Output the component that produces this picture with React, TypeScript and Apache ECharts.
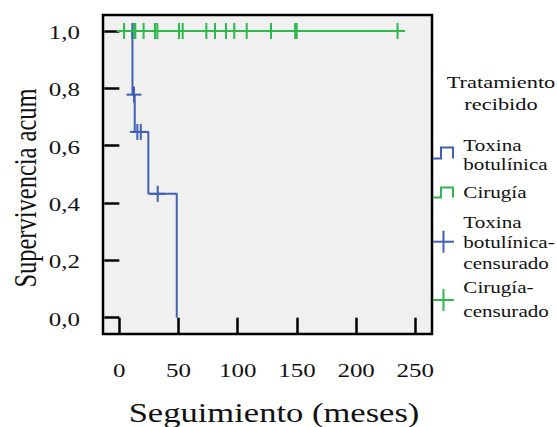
import React, { useEffect, useRef } from "react";
import * as echarts from "echarts";

// ---- data ----
const xTicks = [0, 50, 100, 150, 200, 250];
const xTickLabels = ["0", "50", "100", "150", "200", "250"];
const yTicks = [0, 0.2, 0.4, 0.6, 0.8, 1.0];
const yTickLabels = ["0,0", "0,2", "0,4", "0,6", "0,8", "1,0"];

const toxinaTimes = [0, 11.1, 13.0, 24.5, 48.5];
const toxinaSurv = [1, 0.778, 0.648, 0.432, 0];
const cirugiaTimes = [0, 235];
const cirugiaSurv = [1, 1];

const toxinaCensTimes = [11.0, 12.4, 15.2, 18.1, 32.4];
const toxinaCensSurv = [1, 0.778, 0.648, 0.648, 0.432];
const cirugiaCensTimes = [4.0, 12.5, 13.5, 20.5, 30.1, 32.1, 50.4, 53.5, 73.5, 80.8, 90.1, 97.1, 107.6, 128.1, 148.5, 149.8, 235];
const cirugiaCensSurv = [1, 1, 1, 1, 1, 1, 1, 1, 1, 1, 1, 1, 1, 1, 1, 1, 1];

const legendTitle = ["Tratamiento", "recibido"];
const legendItems = [
  ["Toxina", "botulínica"],
  ["Cirugía"],
  ["Toxina", "botulínica-", "censurado"],
  ["Cirugía-", "censurado"],
];
const xAxisName = "Seguimiento (meses)";
const yAxisName = "Supervivencia acum";

const BLUE = "#4060b6";
const GREEN = "#2fb84c";
const FONT = "Liberation Serif";
const SX = 1.28;
const TEXT = "#111";

const zip = (a: number[], b: number[]) => a.map((v, i) => [v, b[i]]);

export default function App() {
  const ref = useRef<HTMLDivElement>(null);
  useEffect(() => {
    if (!ref.current) return;
    const chart = echarts.init(ref.current, null, { renderer: "svg" });
    const censorSeries = (times: number[], surv: number[], color: string) => [
      {
        type: "scatter",
        data: zip(times, surv),
        symbol: "rect",
        symbolSize: [2, 16],
        itemStyle: { color, opacity: 1 },
        silent: true,
        z: color === GREEN ? 6 : 4,
      },
      {
        type: "scatter",
        data: zip(times, surv),
        symbol: "rect",
        symbolSize: [15, 2],
        itemStyle: { color, opacity: 1 },
        silent: true,
        z: color === GREEN ? 6 : 4,
      },
    ];
    chart.setOption({
      animation: false,
      grid: {
        left: 103,
        top: 15,
        right: 125,
        bottom: 93,
        show: true,
        backgroundColor: "#f0f0f0",
        borderColor: "#000",
        borderWidth: 2.5,
      },
      xAxis: {
        type: "value",
        min: -13.8,
        max: 264.1,
        axisLine: { show: false },
        splitLine: { show: false },
        axisTick: {
          show: true,
          customValues: xTicks,
          length: 16,
          lineStyle: { color: "#000", width: 2.5 },
        },
        axisLabel: { show: false },
      },
      yAxis: {
        type: "value",
        min: -0.0569,
        max: 1.0558,
        axisLine: { show: false },
        splitLine: { show: false },
        axisTick: {
          show: true,
          customValues: yTicks,
          length: 15,
          lineStyle: { color: "#000", width: 2.5 },
        },
        axisLabel: { show: false },
      },
      series: [
        {
          type: "line",
          step: "end",
          data: zip(toxinaTimes, toxinaSurv),
          showSymbol: false,
          lineStyle: { color: BLUE, width: 2 },
          z: 3,
        },
        ...censorSeries(toxinaCensTimes, toxinaCensSurv, BLUE),
        {
          type: "line",
          data: zip(cirugiaTimes, cirugiaSurv),
          showSymbol: false,
          lineStyle: { color: GREEN, width: 2 },
          z: 5,
        },
        ...censorSeries(cirugiaCensTimes, cirugiaCensSurv, GREEN),
      ],
    });

    const px = (v: number) => chart.convertToPixel({ xAxisIndex: 0 }, v) as number;
    const py = (v: number) => chart.convertToPixel({ yAxisIndex: 0 }, v) as number;

    const txt = (text: string, x: number, y: number, size: number, align: string, extra: any = {}) => ({
      type: "text",
      x,
      y,
      scaleX: SX,
      ...extra,
      style: {
        text,
        fill: TEXT,
        fontFamily: FONT,
        fontSize: size,
        align,
        verticalAlign: "middle",
      },
      silent: true,
    });

    const g: any[] = [];
    xTicks.forEach((v, i) => g.push(txt(xTickLabels[i], px(v), 370, 19.5, "center")));
    yTicks.forEach((v, i) => g.push(txt(yTickLabels[i], 80, py(v) + 1.5, 19.5, "right")));
    g.push(txt(xAxisName, 274, 412.5, 27, "center"));
    g.push({
      type: "text",
      x: 25,
      y: 188,
      rotation: Math.PI / 2,
      scaleY: SX,
      style: {
        text: yAxisName,
        fill: TEXT,
        fontFamily: FONT,
        fontSize: 24.5,
        align: "center",
        verticalAlign: "middle",
      },
      silent: true,
    });
    g.push(txt(legendTitle[0], 501, 82.4, 17.5, "center"));
    g.push(txt(legendTitle[1], 501, 104.2, 17.5, "center"));
    const itemY = [
      [145.4, 164.6],
      [192.4],
      [222.4, 242.6, 263.2],
      [287.4, 311.4],
    ];
    legendItems.forEach((lines, k) =>
      lines.forEach((t, j) => g.push(txt(t, 463.3, itemY[k][j], 16.5, "left")))
    );
    const stepSym = (yLow: number, yHigh: number, color: string) => ({
      type: "polyline",
      shape: { points: [[433, yLow], [441, yLow], [441, yHigh], [453, yHigh], [453, yLow]] },
      style: { stroke: color, lineWidth: 2, fill: "none" },
      silent: true,
    });
    const plusSym = (cy: number, color: string) => [
      { type: "line", shape: { x1: 433, y1: cy, x2: 454, y2: cy }, style: { stroke: color, lineWidth: 2 }, silent: true },
      { type: "line", shape: { x1: 443.5, y1: cy - 11, x2: 443.5, y2: cy + 11 }, style: { stroke: color, lineWidth: 2 }, silent: true },
    ];
    g.push(stepSym(158.5, 147.5, BLUE));
    g.push(stepSym(197.5, 187.5, GREEN));
    g.push(...plusSym(241.7, BLUE));
    g.push(...plusSym(300, GREEN));

    chart.setOption({ graphic: g });

    return () => chart.dispose();
  }, []);
  return <div ref={ref} style={{ width: 557, height: 427, position: "absolute", left: 0, top: 0 }} />;
}
